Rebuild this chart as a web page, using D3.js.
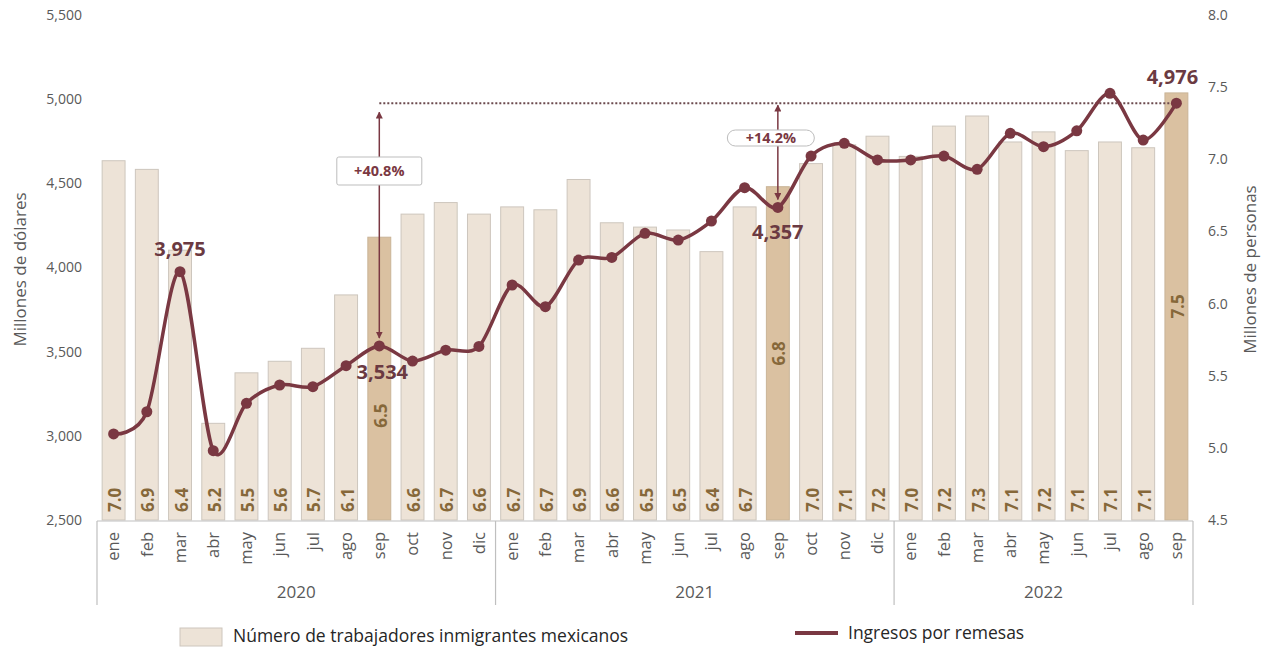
<!DOCTYPE html>
<html>
<head>
<meta charset="utf-8">
<script src="https://cdn.jsdelivr.net/npm/d3@7"></script>
<style>
  html, body { margin: 0; padding: 0; background: #fff; }
  svg { display: block; font-family: "Open Sans", "Noto Sans", sans-serif; }
</style>
</head>
<body>
<svg id="chart" width="1266" height="647"></svg>
<script>
// ---------------- DATA ----------------
const monthLabels = ["ene","feb","mar","abr","may","jun","jul","ago","sep","oct","nov","dic",
                     "ene","feb","mar","abr","may","jun","jul","ago","sep","oct","nov","dic",
                     "ene","feb","mar","abr","may","jun","jul","ago","sep"];
const yearLabels = ["2020","2021","2022"];
const yearCounts = [12, 12, 9];
// Número de trabajadores inmigrantes mexicanos (millones de personas)
const workers = [6.99, 6.93, 6.37, 5.17, 5.52, 5.60, 5.69, 6.06, 6.46, 6.62, 6.70, 6.62,
                 6.67, 6.65, 6.86, 6.56, 6.53, 6.51, 6.36, 6.67, 6.81, 6.97, 7.10, 7.16,
                 7.02, 7.23, 7.30, 7.12, 7.19, 7.06, 7.12, 7.08, 7.46];
// Ingresos por remesas (millones de dólares)
const remittances = [3011, 3143, 3975, 2912, 3193, 3302, 3292, 3417, 3534, 3444, 3509, 3531,
                     3896, 3767, 4044, 4060, 4203, 4163, 4276, 4474, 4357, 4662, 4738, 4639,
                     4639, 4662, 4583, 4797, 4718, 4812, 5035, 4757, 4976];
const leftTicks = [2500, 3000, 3500, 4000, 4500, 5000, 5500];
const rightTicks = [4.5, 5.0, 5.5, 6.0, 6.5, 7.0, 7.5, 8.0];
const highlighted = [8, 20, 32];            // septiembre de cada año
const valueLabelIdx = [2, 8, 20, 32];       // puntos con etiqueta de valor
const growthLabels = [{from: 8, to: 32, text: "+40.8%"}, {from: 20, to: 32, text: "+14.2%"}];
const legendLabels = ["Número de trabajadores inmigrantes mexicanos", "Ingresos por remesas"];
const axisTitles = ["Millones de dólares", "Millones de personas"];

(function () {
// ---------------- STYLE ----------------
const C = {
  bar: "#ede3d7", barStroke: "#cdc6bd",
  barHi: "#dac1a1", barHiStroke: "#c9b497",
  barLabel: "#86683a",
  line: "#7a3842",
  text: "#595959",
  axis: "#bfbfbf"
};

const svg = d3.select("#chart");
const pLeft = 97, pRight = 1193, pTop = 15, pBottom = 520;

const keys = monthLabels.map((m, i) => i);
const x = d3.scaleBand().domain(keys).range([pLeft, pRight]).paddingInner(0.31).paddingOuter(0.155);
const yL = d3.scaleLinear().domain([2500, 5500]).range([pBottom, pTop]);
const yR = d3.scaleLinear().domain([4.5, 8.0]).range([pBottom, pTop]);
const cx = i => x(i) + x.bandwidth() / 2;

// defs: arrowheads
const defs = svg.append("defs");
defs.append("marker").attr("id", "arrow").attr("viewBox", "0 0 10 10")
  .attr("refX", 9).attr("refY", 5).attr("markerWidth", 7).attr("markerHeight", 7)
  .attr("orient", "auto-start-reverse").attr("markerUnits", "userSpaceOnUse")
  .append("path").attr("d", "M0,0 L10,5 L0,10 z").attr("fill", C.line);

// ---------------- BARS ----------------
svg.append("g").selectAll("rect").data(workers).join("rect")
  .attr("x", (d, i) => x(i))
  .attr("y", d => yR(d))
  .attr("width", x.bandwidth())
  .attr("height", d => pBottom - yR(d))
  .attr("fill", (d, i) => highlighted.includes(i) ? C.barHi : C.bar)
  .attr("stroke", (d, i) => highlighted.includes(i) ? C.barHiStroke : C.barStroke)
  .attr("stroke-width", 1);

// bar value labels
svg.append("g").selectAll("text").data(workers).join("text")
  .attr("transform", (d, i) => {
    let yy;
    if (highlighted.includes(i)) {
      yy = (yR(d) + pBottom) / 2;
      if (i === 8) yy += 37;
    } else {
      yy = 512;
    }
    return `translate(${cx(i) + 1},${yy}) rotate(-90)`;
  })
  .attr("text-anchor", (d, i) => highlighted.includes(i) ? "middle" : "start")
  .attr("dominant-baseline", "central")
  .attr("font-size", 17).attr("font-weight", 700)
  .attr("fill", C.barLabel)
  .text(d => d3.format(".1f")(d));

// ---------------- AXES ----------------
const gl = svg.append("g").attr("transform", `translate(${pLeft},0)`)
  .call(d3.axisLeft(yL).tickValues(leftTicks).tickSize(0).tickPadding(15).tickFormat(d3.format(",")));
gl.select(".domain").remove();
gl.selectAll("text").attr("font-size", 14).attr("fill", C.text).attr("font-family", "Open Sans, sans-serif");

const gr = svg.append("g").attr("transform", `translate(${pRight},0)`)
  .call(d3.axisRight(yR).tickValues(rightTicks).tickSize(0).tickPadding(15).tickFormat(d3.format(".1f")));
gr.select(".domain").remove();
gr.selectAll("text").attr("font-size", 14).attr("fill", C.text).attr("font-family", "Open Sans, sans-serif");

// category axis
const gx = svg.append("g").attr("transform", `translate(0,${pBottom + 1})`)
  .call(d3.axisBottom(x).tickSize(0).tickPadding(0).tickFormat(i => monthLabels[i]));
gx.select(".domain").remove();
gx.selectAll("text")
  .attr("font-size", 16.5).attr("fill", C.text).attr("font-family", "Open Sans, sans-serif")
  .attr("transform", "translate(0,11) rotate(-90)")
  .attr("text-anchor", "end").attr("dy", "0.35em").attr("x", 0).attr("y", 0);

// axis frame lines
svg.append("line").attr("x1", pLeft).attr("x2", pRight).attr("y1", pBottom + 1).attr("y2", pBottom + 1)
  .attr("stroke", C.axis).attr("stroke-width", 1.2);
let start = 0;
const bounds = [pLeft];
yearCounts.forEach(n => { start += n; bounds.push(x(start - 1) + x.bandwidth() + x.step() * x.paddingInner() / 2); });
bounds[bounds.length - 1] = pRight;
svg.append("g").selectAll("line").data(bounds).join("line")
  .attr("x1", d => d).attr("x2", d => d).attr("y1", pBottom + 1).attr("y2", 605)
  .attr("stroke", C.axis).attr("stroke-width", 1.2);
svg.append("g").selectAll("text").data(yearLabels).join("text")
  .attr("x", (d, i) => (bounds[i] + bounds[i + 1]) / 2)
  .attr("y", 598)
  .attr("text-anchor", "middle").attr("font-size", 17).attr("fill", C.text)
  .text(d => d);

// axis titles
svg.append("text").attr("transform", `translate(26,${(pTop + pBottom) / 2 + 2}) rotate(-90)`)
  .attr("text-anchor", "middle").attr("font-size", 17).attr("fill", C.text).text(axisTitles[0]);
svg.append("text").attr("transform", `translate(1256,${(pTop + pBottom) / 2 + 2}) rotate(-90)`)
  .attr("text-anchor", "middle").attr("font-size", 17).attr("fill", C.text).text(axisTitles[1]);

// ---------------- REFERENCE DOTTED LINE ----------------
const refVal = remittances[32];
svg.append("line")
  .attr("x1", cx(8)).attr("x2", cx(32)).attr("y1", yL(refVal)).attr("y2", yL(refVal))
  .attr("stroke", "#6b4a4e").attr("stroke-width", 2).attr("stroke-dasharray", "2,2");

// ---------------- LINE ----------------
const line = d3.line().x((d, i) => cx(i)).y(d => yL(d)).curve(d3.curveCardinal.tension(0.1));
svg.append("path").datum(remittances)
  .attr("d", line).attr("fill", "none").attr("stroke", C.line).attr("stroke-width", 3.5);
svg.append("g").selectAll("circle").data(remittances).join("circle")
  .attr("cx", (d, i) => cx(i)).attr("cy", d => yL(d)).attr("r", 5.5).attr("fill", C.line);

// ---------------- GROWTH ARROWS ----------------
growthLabels.forEach((g, k) => {
  const xx = cx(g.from);
  const yTop = yL(remittances[g.to]) + (k === 0 ? 9 : 2);
  const yBot = yL(remittances[g.from]) - 8;
  svg.append("line").attr("x1", xx).attr("x2", xx).attr("y1", yTop).attr("y2", yBot)
    .attr("stroke", C.line).attr("stroke-width", 1.5)
    .attr("marker-start", "url(#arrow)").attr("marker-end", "url(#arrow)");
  const w = k === 0 ? 85 : 87, h = k === 0 ? 28 : 16, yc = k === 0 ? 171 : 138;
  svg.append("rect").attr("x", xx - w / 2 + (k === 0 ? 0 : -7)).attr("y", yc - h / 2)
    .attr("width", w).attr("height", h).attr("rx", k === 0 ? 2 : 8)
    .attr("fill", "#fff").attr("stroke", "#bdbdbd").attr("stroke-width", 1);
  svg.append("text").attr("x", xx + (k === 0 ? 0 : -7)).attr("y", yc).attr("dy", "0.35em")
    .attr("text-anchor", "middle").attr("font-size", 14.5).attr("font-weight", 700)
    .attr("fill", C.line).text(g.text);
});

// ---------------- VALUE LABELS ----------------
const valueOffsets = {2: [0, -16], 8: [3, 33], 20: [0, 32], 32: [-4, -19]};
svg.append("g").selectAll("text").data(valueLabelIdx).join("text")
  .attr("x", i => cx(i) + valueOffsets[i][0])
  .attr("y", i => yL(remittances[i]) + valueOffsets[i][1])
  .attr("text-anchor", "middle").attr("font-size", 20).attr("font-weight", 700)
  .attr("fill", "#6b3a42")
  .text(i => d3.format(",")(remittances[i]));

// ---------------- LEGEND ----------------
svg.append("rect").attr("x", 180).attr("y", 628).attr("width", 42).attr("height", 18)
  .attr("fill", C.bar).attr("stroke", C.barStroke);
svg.append("text").attr("x", 233).attr("y", 642).attr("font-size", 17.5).attr("fill", "#262626")
  .text(legendLabels[0]);
svg.append("line").attr("x1", 795).attr("x2", 838).attr("y1", 633).attr("y2", 633)
  .attr("stroke", C.line).attr("stroke-width", 4);
svg.append("text").attr("x", 848).attr("y", 639).attr("font-size", 17.5).attr("fill", "#262626")
  .text(legendLabels[1]);
})();
</script>
</body>
</html>
